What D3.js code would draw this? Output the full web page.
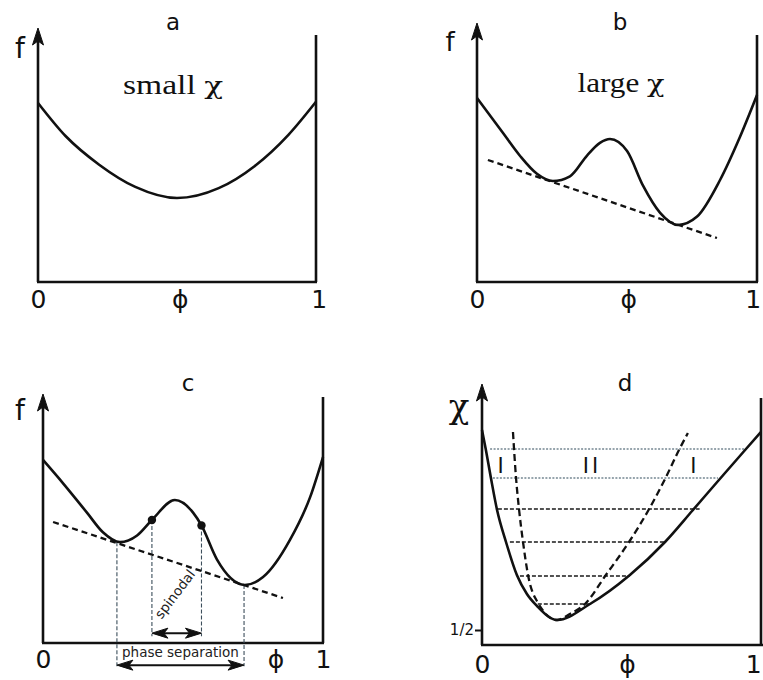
<!DOCTYPE html>
<html><head><meta charset="utf-8">
<script src="https://cdn.jsdelivr.net/npm/d3@7"></script>
<style>body{margin:0;background:#fff}svg{display:block}</style>
</head><body>
<svg id="chart" width="763" height="680"></svg>
<script>
// ---------------- data ----------------
const panelTitles = ["a", "b", "c", "d"];
const panelNoteWords = ["small", "large"];
const chiSymbol = "χ";
const xTickLabels = ["0", "ϕ", "1"];
const xTickPhiA = [0, 0.51, 1.01];
const xTickPhiB = [0, 0.54, 0.985];
const xTickPhiC = [0, 0.83, 1.0];
const xTickPhiD = [0, 0.52, 0.972];

// panel a : f(phi), small chi
const phiA = [0, 0.1, 0.22, 0.35, 0.5, 0.65, 0.78, 0.9, 1];
const fA   = [0.725, 0.59, 0.475, 0.385, 0.34, 0.38, 0.47, 0.595, 0.73];

// panel b : f(phi), large chi
const phiB = [0, 0.093, 0.154, 0.214, 0.271, 0.332, 0.393, 0.439, 0.475, 0.536, 0.593, 0.654, 0.718, 0.786, 0.868, 0.939, 1];
const fB   = [0.745, 0.603, 0.51, 0.438, 0.409, 0.428, 0.512, 0.563, 0.579, 0.53, 0.39, 0.28, 0.231, 0.265, 0.413, 0.587, 0.757];
const tangentPhiB = [0.039, 0.857];
const tangentFB   = [0.494, 0.178];

// panel c : f(phi) with spinodal / binodal construction
const phiC = [0, 0.071, 0.157, 0.214, 0.275, 0.336, 0.389, 0.471, 0.536, 0.566, 0.621, 0.721, 0.786, 0.882, 0.954, 1];
const fC   = [0.744, 0.65, 0.53, 0.45, 0.41, 0.437, 0.5, 0.581, 0.53, 0.478, 0.34, 0.236, 0.268, 0.419, 0.593, 0.756];
const tangentPhiC = [0.036, 0.857];
const tangentFC   = [0.492, 0.183];
const spinodalPhiC = [0.389, 0.566];
const spinodalFC   = [0.5, 0.478];
const binodalPhiC  = [0.264, 0.718];
const binodalFC    = [0.41, 0.236];
const spinodalArrowF = 0.04;
const phaseArrowF = -0.09;
const spinodalLabel = "spinodal";
const phaseLabel = "phase separation";

// panel d : phase diagram chi(phi)
const phiBinodal = [0, 0.014, 0.032, 0.054, 0.086, 0.125, 0.161, 0.197, 0.269, 0.387, 0.530, 0.656, 0.753, 0.846, 0.943, 1.0];
const chiBinodal = [2.50, 2.30, 2.02, 1.70, 1.38, 1.05, 0.86, 0.74, 0.60, 0.76, 1.05, 1.38, 1.69, 1.99, 2.30, 2.48];
const phiSpinodal = [0.111, 0.122, 0.133, 0.147, 0.165, 0.201, 0.269, 0.315, 0.369, 0.444, 0.527, 0.599, 0.656, 0.706, 0.738];
const chiSpinodal = [2.48, 2.02, 1.70, 1.38, 1.05, 0.77, 0.60, 0.66, 0.76, 1.05, 1.38, 1.71, 2.01, 2.30, 2.47];
const tieChi      = [2.31, 2.02, 1.71, 1.38, 1.04, 0.76];
const tiePhiLeft  = [0.029, 0.039, 0.057, 0.10, 0.136, 0.20];
const tiePhiRight = [0.943, 0.846, 0.78, 0.656, 0.53, 0.394];
const regionLabels = ["I", "II", "I"];
const regionPhi = [0.072, 0.394, 0.763];
const regionChi = [2.15, 2.15, 2.15];
const chiTickValues = [0.5];
const chiTickLabels = ["1/2"];

// ---------------- drawing ----------------
const svg = d3.select("#chart");
const INK = "#111";
const LW = 2.6;
const SANS = "DejaVu Sans, sans-serif";
const SERIF = "Liberation Serif, Times New Roman, serif";
const CHI_FONT = "DejaVu Serif, serif";

function zip(xs, ys) { return xs.map((v, i) => [v, ys[i]]); }

function arrowUp(g, x, y) {
  g.append("path")
    .attr("d", `M${x},${y} L${x - 5.5},${y + 17} L${x},${y + 13} L${x + 5.5},${y + 17} Z`)
    .attr("fill", INK).attr("stroke", INK).attr("stroke-width", 1).attr("stroke-linejoin", "miter");
}
function arrowHoriz(g, x1, x2, y) {
  g.append("line").attr("x1", x1 + 4).attr("x2", x2 - 4).attr("y1", y).attr("y2", y)
    .attr("stroke", INK).attr("stroke-width", 2);
  [[x1, 1], [x2, -1]].forEach(([x, s]) => {
    g.append("path")
      .attr("d", `M${x},${y} L${x + s * 16},${y - 5} L${x + s * 12},${y} L${x + s * 16},${y + 5} Z`)
      .attr("fill", INK).attr("stroke", INK).attr("stroke-width", 1);
  });
}

function panel(cfg) {
  const g = svg.append("g");
  const x = d3.scaleLinear().domain([0, 1]).range([cfg.x0, cfg.x1]);
  const y = d3.scaleLinear().domain(cfg.yDomain).range([cfg.yR0, cfg.yR1]);
  g.append("line").attr("x1", cfg.x0).attr("x2", cfg.x0).attr("y1", cfg.yBottom).attr("y2", cfg.tip + 10)
    .attr("stroke", INK).attr("stroke-width", LW);
  arrowUp(g, cfg.x0, cfg.tip);
  g.append("line").attr("x1", cfg.x1).attr("x2", cfg.x1).attr("y1", cfg.yBottom).attr("y2", cfg.rightTop)
    .attr("stroke", INK).attr("stroke-width", LW);
  const ax = g.append("g").attr("transform", `translate(0,${cfg.yBottom})`)
    .call(d3.axisBottom(x).tickValues(cfg.ticks).tickFormat((d, i) => xTickLabels[i]).tickSize(0).tickPadding(cfg.tickPad));
  ax.select(".domain").attr("stroke", INK).attr("stroke-width", LW).attr("d", `M${cfg.x0 - 1},0H${cfg.xAxisEnd}`);
  ax.selectAll("text").attr("font-family", SANS).attr("font-size", 25).attr("fill", INK);
  g.append("text").attr("x", cfg.titleX).attr("y", cfg.titleY).attr("text-anchor", "middle")
    .attr("font-family", SANS).attr("font-size", 23).attr("fill", INK).text(cfg.title);
  g.append("text").attr("x", cfg.yLabX).attr("y", cfg.yLabY).attr("text-anchor", "middle")
    .attr("font-family", cfg.yLabFont).attr("font-size", cfg.yLabSize).attr("fill", INK).text(cfg.yLab);
  return { g, x, y };
}

function note(g, cx, by, word, len) {
  const t = g.append("text").attr("x", cx).attr("y", by).attr("text-anchor", "middle").attr("font-family", SERIF)
    .attr("font-size", 27).attr("fill", INK).attr("textLength", len).attr("lengthAdjust", "spacingAndGlyphs");
  t.append("tspan").text(word + " ");
  t.append("tspan").attr("font-family", CHI_FONT).attr("font-size", 25).text(chiSymbol);
}

const curve = d3.curveMonotoneX;

// ---- panel a ----
{
  const { g, x, y } = panel({ x0: 38, x1: 316, yBottom: 282, rightTop: 35, tip: 28, yDomain: [0, 1], yR0: 282, yR1: 35,
    ticks: xTickPhiA, tickPad: 8, xAxisEnd: 317, title: panelTitles[0], titleX: 173, titleY: 30,
    yLab: "f", yLabX: 20, yLabY: 58, yLabFont: SANS, yLabSize: 28 });
  g.append("path").datum(zip(phiA, fA)).attr("fill", "none").attr("stroke", INK).attr("stroke-width", LW)
    .attr("d", d3.line().x(d => x(d[0])).y(d => y(d[1])).curve(curve));
  note(g, 173, 94, panelNoteWords[0], 100);
}

// ---- panel b ----
{
  const { g, x, y } = panel({ x0: 477, x1: 757, yBottom: 282, rightTop: 35, tip: 23, yDomain: [0, 1], yR0: 282, yR1: 35,
    ticks: xTickPhiB, tickPad: 8, xAxisEnd: 758, title: panelTitles[1], titleX: 620, titleY: 30,
    yLab: "f", yLabX: 450, yLabY: 51, yLabFont: SANS, yLabSize: 26 });
  g.append("path").datum(zip(tangentPhiB, tangentFB)).attr("fill", "none").attr("stroke", INK).attr("stroke-width", 2.3)
    .attr("stroke-dasharray", "6,4").attr("d", d3.line().x(d => x(d[0])).y(d => y(d[1])));
  g.append("path").datum(zip(phiB, fB)).attr("fill", "none").attr("stroke", INK).attr("stroke-width", LW)
    .attr("d", d3.line().x(d => x(d[0])).y(d => y(d[1])).curve(curve));
  note(g, 621, 92, panelNoteWords[1], 87);
}

// ---- panel c ----
{
  const { g, x, y } = panel({ x0: 43, x1: 323, yBottom: 643, rightTop: 397, tip: 394, yDomain: [0, 1], yR0: 643, yR1: 397,
    ticks: xTickPhiC, tickPad: 7, xAxisEnd: 324, title: panelTitles[2], titleX: 188, titleY: 391,
    yLab: "f", yLabX: 20, yLabY: 420, yLabFont: SANS, yLabSize: 28 });
  const vStroke = "#3d4f5c";
  binodalPhiC.forEach((p, i) => {
    g.append("line").attr("x1", x(p)).attr("x2", x(p)).attr("y1", y(binodalFC[i])).attr("y2", y(phaseArrowF) + 1)
      .attr("stroke", vStroke).attr("stroke-width", 1.1).attr("stroke-dasharray", "4,2");
  });
  spinodalPhiC.forEach((p, i) => {
    g.append("line").attr("x1", x(p)).attr("x2", x(p)).attr("y1", y(spinodalFC[i])).attr("y2", y(spinodalArrowF) + 3)
      .attr("stroke", vStroke).attr("stroke-width", 1.1).attr("stroke-dasharray", "4,2");
  });
  g.append("path").datum(zip(tangentPhiC, tangentFC)).attr("fill", "none").attr("stroke", INK).attr("stroke-width", 2.3)
    .attr("stroke-dasharray", "6,4").attr("d", d3.line().x(d => x(d[0])).y(d => y(d[1])));
  g.append("path").datum(zip(phiC, fC)).attr("fill", "none").attr("stroke", INK).attr("stroke-width", LW)
    .attr("d", d3.line().x(d => x(d[0])).y(d => y(d[1])).curve(curve));
  g.selectAll("circle.sp").data(zip(spinodalPhiC, spinodalFC)).join("circle")
    .attr("cx", d => x(d[0])).attr("cy", d => y(d[1])).attr("r", 4.2).attr("fill", INK);
  arrowHoriz(g, x(spinodalPhiC[0]), x(spinodalPhiC[1]), y(spinodalArrowF));
  arrowHoriz(g, x(binodalPhiC[0]), x(binodalPhiC[1]), y(phaseArrowF));
  const mid = (x(spinodalPhiC[0]) + x(spinodalPhiC[1])) / 2;
  g.append("text").attr("transform", `translate(${mid + 2},597) rotate(-53)`).attr("text-anchor", "middle")
    .attr("font-family", SANS).attr("font-size", 13.5).attr("fill", "#222").text(spinodalLabel);
  g.append("text").attr("x", (x(binodalPhiC[0]) + x(binodalPhiC[1])) / 2).attr("y", 657).attr("text-anchor", "middle")
    .attr("font-family", SANS).attr("font-size", 13.5).attr("fill", "#222").text(phaseLabel);
}

// ---- panel d ----
{
  const { g, x, y } = panel({ x0: 482, x1: 761, yBottom: 645, rightTop: 398, tip: 384, yDomain: [0.5, 2.5], yR0: 630, yR1: 430,
    ticks: xTickPhiD, tickPad: 10, xAxisEnd: 763, title: panelTitles[3], titleX: 625, titleY: 391,
    yLab: chiSymbol, yLabX: 459, yLabY: 418, yLabFont: CHI_FONT, yLabSize: 34 });
  const ay = g.append("g").attr("transform", `translate(482,0)`)
    .call(d3.axisLeft(y).tickValues(chiTickValues).tickFormat((d, i) => chiTickLabels[i]).tickSize(7).tickPadding(1));
  ay.select(".domain").remove();
  ay.selectAll("line").attr("stroke", INK).attr("stroke-width", 2);
  ay.selectAll("text").attr("font-family", SANS).attr("font-size", 15).attr("fill", INK);
  tieChi.forEach((c, i) => {
    g.append("line").attr("x1", x(tiePhiLeft[i])).attr("x2", x(tiePhiRight[i])).attr("y1", y(c)).attr("y2", y(c))
      .attr("stroke", i < 2 ? "#2f4a5a" : "#1a1a1a").attr("stroke-width", i < 2 ? 1.2 : 1.3)
      .attr("stroke-dasharray", i < 2 ? "2,1.5" : "4,2");
  });
  g.append("path").datum(zip(phiSpinodal, chiSpinodal)).attr("fill", "none").attr("stroke", INK).attr("stroke-width", 2.3)
    .attr("stroke-dasharray", "7,4").attr("d", d3.line().x(d => x(d[0])).y(d => y(d[1])).curve(curve));
  g.append("path").datum(zip(phiBinodal, chiBinodal)).attr("fill", "none").attr("stroke", INK).attr("stroke-width", LW)
    .attr("d", d3.line().x(d => x(d[0])).y(d => y(d[1])).curve(curve));
  g.selectAll("text.reg").data(regionLabels).join("text").attr("class", "reg")
    .attr("x", (d, i) => x(regionPhi[i])).attr("y", (d, i) => y(regionChi[i]) + 8).attr("text-anchor", "middle")
    .attr("font-family", SANS).attr("font-size", 21).attr("letter-spacing", 3).attr("fill", INK).text(d => d);
}
</script>
</body></html>
